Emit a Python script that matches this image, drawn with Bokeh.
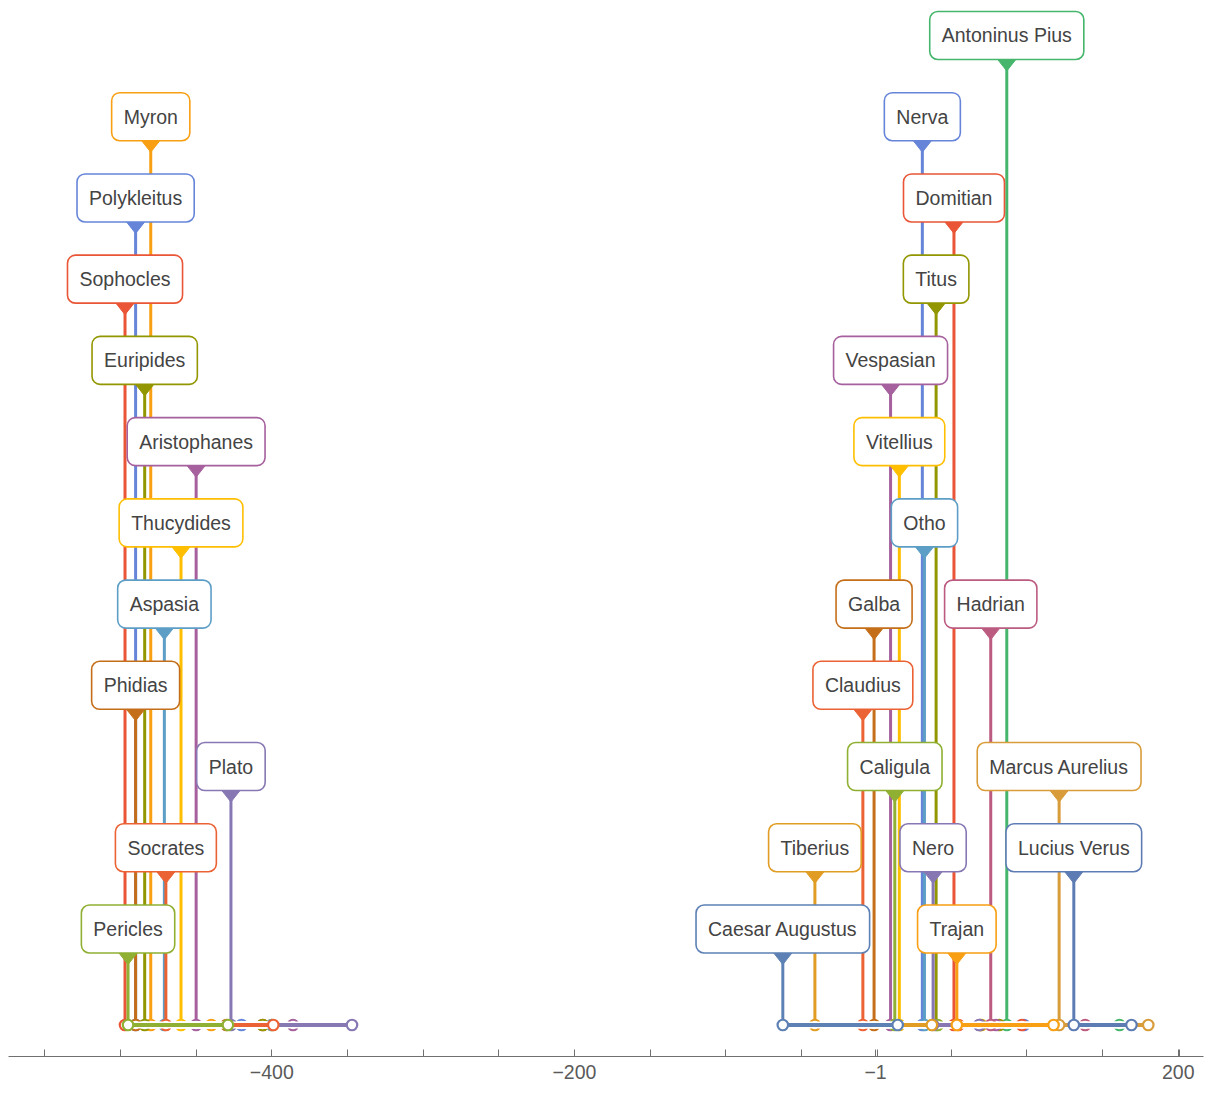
from bokeh.plotting import figure
from bokeh.models import ColumnDataSource, Range1d, LinearAxis, FixedTicker
from bokeh.core.properties import value
from bokeh.embed import file_html
from bokeh.resources import INLINE

# ---- data (astronomical years; 1 BC = 0) ----
names = ["Pericles", "Socrates", "Plato", "Phidias", "Aspasia", "Thucydides",
         "Aristophanes", "Euripides", "Sophocles", "Polykleitus", "Myron",
         "Caesar Augustus", "Tiberius", "Caligula", "Claudius", "Nero", "Galba",
         "Otho", "Vitellius", "Vespasian", "Titus", "Domitian", "Nerva", "Trajan",
         "Hadrian", "Antoninus Pius", "Marcus Aurelius", "Lucius Verus"]
starts = [-494, -469, -426, -489, -470, -459,
          -449, -483, -496, -489, -479,
          -61.3, -40.1, 12.7, -8.4, 38.0, -1.0,
          32.3, 15.7, 9.9, 40.0, 51.8, 30.9, 53.7,
          76.1, 86.7, 121.3, 131.0]
ends = [-428, -398, -346, -429, -399, -399,
        -385, -405, -405, -419, -439,
        14.6, 37.2, 41.1, 54.8, 68.4, 69.0,
        69.3, 70.0, 79.5, 81.7, 96.7, 98.1, 117.6,
        138.5, 161.2, 180.2, 169.1]
levels = [1, 2, 3, 4, 5, 6, 7, 8, 9, 10, 11,
          1, 2, 3, 4, 2, 5, 6, 7, 8, 9, 10, 11, 1, 5, 12, 3, 2]
colors = ["#8FB032", "#EB6235", "#8778B3", "#C56E1A", "#5D9EC7", "#FFBF00",
          "#A5609D", "#929600", "#E95536", "#6685D9", "#F89F13",
          "#5E81B5", "#E19C24", "#8FB032", "#EB6235", "#8778B3", "#C56E1A",
          "#5D9EC7", "#FFBF00", "#A5609D", "#929600", "#E95536", "#6685D9", "#F89F13",
          "#BC5B80", "#47B66D", "#D99C3A", "#5E7CB4"]

major_ticks = [-399, -199, 0, 1, 200, 201]
major_labels = ["−400", "−200", "−1", "", "200", ""]
minor_ticks = [-549, -499, -449, -349, -299, -249, -149, -99, -49, 50, 100, 150]

# ---- layout ----
W, H = 1210, 1098
ML, MR, MB = 8, 7, 42
FW, FH = W - ML - MR, H - MB
x0, x1 = -573.0, 216.7
LEVEL_PX = 81.23
BASE_PX = 31.5          # baseline height above frame bottom
y0 = -BASE_PX / LEVEL_PX
y1 = (FH - BASE_PX) / LEVEL_PX
px_x = FW / (x1 - x0)
px_y = FH / (y1 - y0)
RISE = 96 / px_y        # label centre of level 1 above baseline
HALF_BOX = 23.5 / px_y
TRI_W = 9.5 / px_x
TRI_H = 12 / px_y

p = figure(width=W, height=H, x_range=Range1d(x0, x1), y_range=Range1d(y0, y1),
           output_backend="svg", toolbar_location=None,
           x_axis_location=None, y_axis_location=None,
           min_border_left=ML, min_border_right=MR, min_border_top=0, min_border_bottom=MB)
p.outline_line_color = None
p.background_fill_color = "white"
for g in p.grid:
    g.visible = False

ax = LinearAxis(ticker=FixedTicker(ticks=major_ticks, minor_ticks=minor_ticks))
ax.major_label_overrides = {float(t): l for t, l in zip(major_ticks, major_labels)}
ax.axis_line_color = "#707070"
ax.major_tick_line_color = "#707070"
ax.minor_tick_line_color = "#707070"
ax.major_tick_in = 7
ax.major_tick_out = 0
ax.minor_tick_in = 7
ax.minor_tick_out = 0
ax.major_label_text_font = "Liberation Sans"
ax.major_label_text_font_size = "19.5px"
ax.major_label_text_color = "#5a5a5a"
ax.major_label_standoff = 8
p.add_layout(ax, "below")

n = len(names)
for lvl in sorted(set(levels), reverse=True):
    idx = [i for i in range(n) if levels[i] == lvl]
    s = [starts[i] for i in idx]
    e = [ends[i] for i in idx]
    c = [colors[i] for i in idx]
    ly = lvl - 1 + RISE
    src = ColumnDataSource(dict(
        x=s, xe=e, zero=[0] * len(idx), ly=[ly] * len(idx),
        name=[names[i] for i in idx], color=c))
    # stems
    p.segment(x0="x", y0="zero", x1="x", y1="ly", source=src, line_color="color", line_width=3)
    # intervals
    p.segment(x0="x", y0="zero", x1="xe", y1="zero", source=src, line_color="white", line_width=7)
    p.segment(x0="x", y0="zero", x1="xe", y1="zero", source=src, line_color="color", line_width=4)
    # end points
    p.scatter(x=s + e, y=[0] * (2 * len(idx)), size=10.5, marker="circle",
              fill_color="white", line_color=c + c, line_width=2.2)
    # pointer triangles
    tx = [[v - TRI_W, v + TRI_W, v] for v in s]
    ty = [[ly - HALF_BOX, ly - HALF_BOX, ly - HALF_BOX - TRI_H] for _ in s]
    p.patches(xs=tx, ys=ty, fill_color=c, line_color=c, line_width=1)
    # labels
    p.text(x="x", y="ly", text="name", source=src, text_align="center", text_baseline="middle",
           text_font=value("Liberation Sans"), text_font_size="19.5px", text_color="#444444",
           background_fill_color="white", border_line_color="color", border_line_width=1.6,
           padding=(12, 13), border_radius=8)

open("out.html", "w").write(file_html(p, INLINE))
